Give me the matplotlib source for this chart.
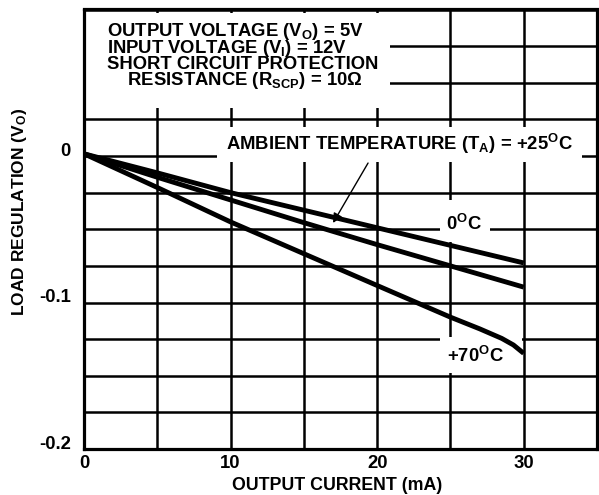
import matplotlib
matplotlib.use('Agg')
import matplotlib.pyplot as plt
from matplotlib.patches import Rectangle
import numpy as np

# ---- data ----
current = [0, 5, 10, 15, 20, 25, 30]
reg_0c = [0.0015, -0.0115, -0.0250, -0.0370, -0.0490, -0.0610, -0.0730]
reg_25c = [0.0015, -0.0145, -0.0300, -0.0455, -0.0605, -0.0750, -0.0895]
current_70c = [0, 5, 10, 15, 20, 25, 27, 28.5, 29.3, 30]
reg_70c = [0.0015, -0.0215, -0.0450, -0.0667, -0.0884, -0.1100, -0.1180, -0.1245, -0.1290, -0.1347]

xticks = [0, 5, 10, 15, 20, 25, 30, 35]
xticklabels = ['0', '', '10', '', '20', '', '30', '']
yticks = [-0.2, -0.175, -0.15, -0.125, -0.1, -0.075, -0.05, -0.025, 0, 0.025, 0.05, 0.075, 0.1]
yticklabels = ['-0.2', '', '', '', '-0.1', '', '', '', '0', '', '', '', '']

plt.rcParams['font.family'] = ['Liberation Sans', 'DejaVu Sans']
plt.rcParams['font.weight'] = 'bold'
plt.rcParams['axes.labelweight'] = 'bold'
plt.rcParams['mathtext.fontset'] = 'custom'
for k in ['rm', 'it', 'bf', 'sf']:
    plt.rcParams['mathtext.' + k] = 'Liberation Sans:bold'
plt.rcParams['mathtext.default'] = 'rm'

W, H = 599, 495
fig = plt.figure(figsize=(W / 100, H / 100), dpi=100)
ax = fig.add_axes([84 / W, 1 - 449 / H, 513 / W, 439.5 / H])

def px(x, y):
    return (x / W, 1 - y / H)

ax.set_xlim(0, 35)
ax.set_ylim(-0.2, 0.1)
ax.set_xticks(xticks)
ax.set_xticklabels(xticklabels)
ax.set_yticks(yticks)
ax.set_yticklabels(yticklabels)
ax.tick_params(length=0, labelsize=13.3)
ax.tick_params(axis='x', pad=4)
ax.tick_params(axis='y', pad=9.5)
for lab in ax.get_yticklabels():
    lab.set_verticalalignment('baseline')
ax.grid(True, color='black', lw=1.8)
ax.set_axisbelow(True)
for s in ax.spines.values():
    s.set_linewidth(2.3)
    s.set_color('black')

# white label areas that hide the grid
boxes = [
    (0.0, 0.0328, 20.9, 0.0976 - 0.0328),
    (9.07, -0.0044, 33.98 - 9.07, 0.0198 + 0.0044),
    (24.29, -0.059, 27.7 - 24.29, 0.029),
    (24.29, -0.1481, 29.85 - 24.29, 0.1481 - 0.1236),
]
for (x0, y0, w, h) in boxes:
    ax.add_patch(Rectangle((x0, y0), w, h, facecolor='white', edgecolor='none', zorder=1))

lw = 3.5
ax.plot(current, reg_0c, color='black', lw=lw, zorder=3, solid_capstyle='butt')
ax.plot(current, reg_25c, color='black', lw=lw, zorder=3, solid_capstyle='butt')
ax.plot(current_70c, reg_70c, color='black', lw=lw, zorder=3, solid_capstyle='butt')

ax.annotate('', xy=(16.99, -0.0457), xytext=(19.38, -0.0048),
            arrowprops=dict(arrowstyle='-|>', color='black', lw=1.0,
                            mutation_scale=14, shrinkA=0, shrinkB=0), zorder=4)

fs = 13.3
conditions = (r'OUTPUT VOLTAGE (V$_{O}$) = 5V' + '\n'
              + r'INPUT VOLTAGE (V$_{I}$) = 12V' + '\n'
              + 'SHORT CIRCUIT PROTECTION' + '\n'
              + r'    RESISTANCE (R$_{SCP}$) = 10Ω')
fig.text(*px(107, 85), conditions, fontsize=fs, ha='left', va='baseline',
         multialignment='left', linespacing=0.77)
fig.text(*px(399.5, 150), r'AMBIENT TEMPERATURE (T$_{A}$) = +25$^{O}$C', fontsize=fs, ha='center', va='baseline')
fig.text(*px(464, 230), r'0$^{O}$C', fontsize=fs, ha='center', va='baseline')
fig.text(*px(475.5, 362), r'+70$^{O}$C', fontsize=fs, ha='center', va='baseline')

ax.set_xlabel('OUTPUT CURRENT (mA)', fontsize=12.8, fontweight='bold', va='center')
ax.xaxis.set_label_coords(337 / W, 1 - 486 / H, transform=fig.transFigure)
ax.set_ylabel(r'LOAD REGULATION (V$_{O}$)', fontsize=12.5, fontweight='bold', va='center')
ax.yaxis.set_label_coords(20 / W, 1 - 211.5 / H, transform=fig.transFigure)

fig.savefig('out.png', dpi=100)
